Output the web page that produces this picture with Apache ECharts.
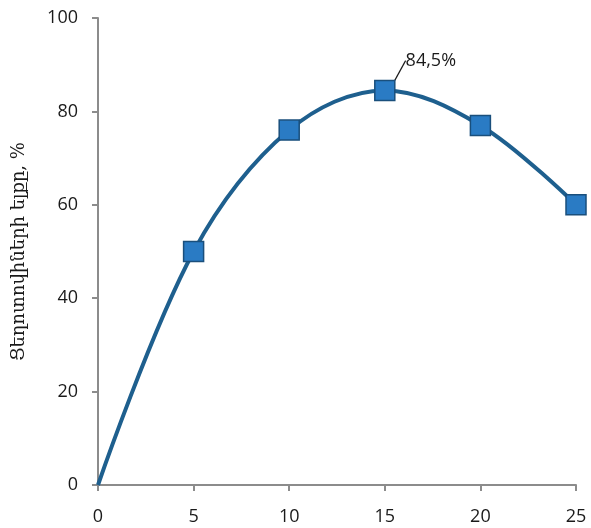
<!DOCTYPE html>
<html>
<head>
<meta charset="utf-8">
<script src="https://cdn.jsdelivr.net/npm/echarts@6/dist/echarts.min.js"></script>
<style>
  html, body { margin: 0; padding: 0; background: #fff; }
  #chart { width: 591px; height: 528px; }
</style>
</head>
<body>
<div id="chart"></div>
<script>
// Time values on the x axis and measured yield, %
const xValues = [0, 5, 10, 15, 20, 25];
const yieldPct = [0, 50, 76, 84.5, 77, 60];
const yTicks = [0, 20, 40, 60, 80, 100];
const xTicks = [0, 5, 10, 15, 20, 25];
const yAxisTitle = 'Ցեղոտովիների ելքը, %';
const peakLabel = '84,5%';
const peakIndex = 3;

const axisColor = '#8c8c8c';
const tickFont = { fontFamily: 'Open Sans', fontSize: 18, color: '#1a1a1a' };

const seriesData = xValues.map((x, i) => {
  const item = { value: [x, yieldPct[i]] };
  if (i === 0) item.symbol = 'none';
  if (i === peakIndex) {
    item.label = {
      show: true,
      position: 'top',
      formatter: peakLabel,
      fontFamily: 'Open Sans',
      fontSize: 18,
      color: '#1a1a1a'
    };
  }
  return item;
});

const chart = echarts.init(document.getElementById('chart'), null, { renderer: 'canvas' });
chart.setOption({
  animation: false,
  backgroundColor: '#fff',
  grid: { left: 98, right: 15, top: 18, bottom: 43, containLabel: false },
  xAxis: {
    type: 'value',
    min: xTicks[0],
    max: xTicks[xTicks.length - 1],
    interval: 5,
    axisLine: { show: true, lineStyle: { color: axisColor, width: 2 } },
    axisTick: { show: true, length: 6, lineStyle: { color: axisColor, width: 2 } },
    axisLabel: Object.assign({ margin: 23 }, tickFont),
    splitLine: { show: false }
  },
  yAxis: {
    type: 'value',
    min: yTicks[0],
    max: yTicks[yTicks.length - 1],
    interval: 20,
    name: yAxisTitle,
    nameLocation: 'middle',
    nameGap: 70,
    nameTextStyle: { fontFamily: 'DejaVu Serif', fontSize: 18, color: '#1a1a1a' },
    axisLine: { show: true, lineStyle: { color: axisColor, width: 2 } },
    axisTick: { show: true, length: 6, lineStyle: { color: axisColor, width: 2 } },
    axisLabel: Object.assign({ margin: 20 }, tickFont),
    splitLine: { show: false }
  },
  series: [{
    type: 'line',
    data: seriesData,
    smooth: 0.35,
    symbol: 'rect',
    symbolSize: 20,
    lineStyle: { color: '#1e5f8e', width: 4 },
    itemStyle: { color: '#2a7bc4', borderColor: '#1a4f7c', borderWidth: 1.5 },
    labelLine: { show: true, lineStyle: { color: '#1a1a1a', width: 1.2 } },
    labelLayout: function (params) {
      return params.dataIndex === peakIndex ? { dx: 46, dy: -5 } : {};
    },
    z: 3
  }]
});
</script>
</body>
</html>
